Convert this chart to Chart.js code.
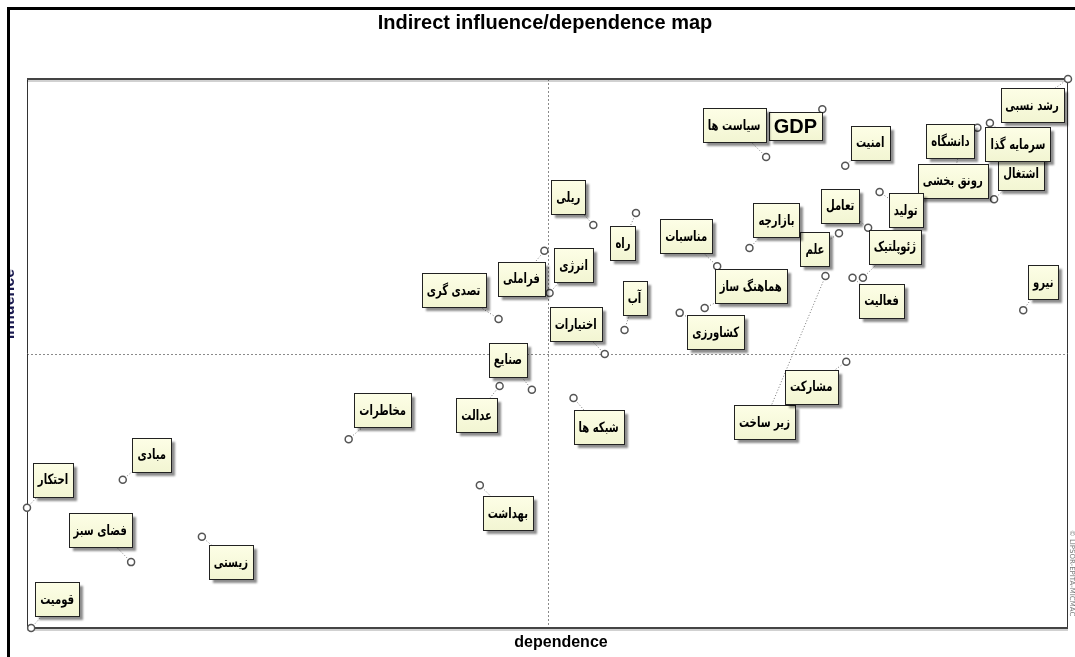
<!DOCTYPE html>
<html>
<head>
<meta charset="utf-8">
<title>Indirect influence/dependence map</title>
<script src="https://cdn.jsdelivr.net/npm/chart.js@4.4.0/dist/chart.umd.js"></script>
<style>
  html, body { margin: 0; padding: 0; background: #fff; }
  #wrap { width: 1075px; height: 657px; position: relative; }
</style>
</head>
<body>
<div id="wrap"><canvas id="map" width="1075" height="657"></canvas></div>
<script>
// Variables (drawing order matters: later boxes sit on top)
const variables = [
  'رشد نسبی', 'دانشگاه', 'اشتغال', 'سرمایه گذا', 'رونق بخشی', 'تولید', 'GDP', 'سیاست ها',
  'امنیت', 'تعامل', 'علم', 'ژئوپلتیک', 'فعالیت', 'زیر ساخت', 'نیرو', 'بازارچه',
  'مناسبات', 'هماهنگ ساز', 'کشاورزی', 'راه', 'ریلی', 'آب', 'اختیارات', 'فراملی',
  'انرژی', 'تصدی گری', 'صنایع', 'عدالت', 'شبکه ها', 'مشارکت', 'بهداشت', 'مخاطرات',
  'مبادی', 'احتکار', 'فضای سبز', 'زیستی', 'قومیت'
];

// x = dependence, y = influence (0..100 over the map)
const dependence = [
  100, 91.3, 92.9, 92.5, 89.6, 81.9, 76.4, 71.0,
  78.6, 80.8, 78.0, 80.3, 79.3, 76.7, 95.7, 69.4,
  66.3, 65.1, 62.7, 58.5, 54.4, 57.4, 55.5, 49.7,
  50.2, 45.3, 48.5, 45.4, 52.5, 78.7, 43.5, 30.9,
  9.2, 0, 10.0, 16.8, 0.4
];
const influence = [
  100, 91.1, 78.1, 92.0, 87.1, 79.4, 94.5, 85.8,
  84.2, 72.9, 71.9, 63.8, 63.8, 64.1, 57.9, 69.2,
  65.9, 58.3, 57.4, 75.6, 73.4, 54.3, 49.9, 68.7,
  61.0, 56.3, 43.4, 44.1, 41.9, 48.5, 26.0, 34.4,
  27.0, 21.9, 12.0, 16.6, 0
];

// label box offsets from the point, in px
const labelDx = [
  -36, -27, 27, 28, -7, 26, -27, -32,
  25, -28, -24, 32, 29, -61, 20, 27,
  -31, 46, 36, -13, -25, 10, -29, -23,
  24, -45, -24, -23, 25, -35, 28, 34,
  29, 26, -31, 29, 26
];
const labelDy = [
  26, 13, -26, 21, 31, 18, 17, -32,
  -23, -22, 16, -31, 23, 146, -28, -28,
  -30, -22, 19, 30, -28, -32, -30, 28,
  -28, -29, -30, 29, 29, 25, 28, -29,
  -25, -28, -32, 25, -29
];

const arabicFont = 'bold 14px "DejaVu Sans", sans-serif';
const latinFont = 'bold 20px "Liberation Sans", Arial, sans-serif';
const arabicSqueeze = 0.72; // DejaVu's Arabic is much wider than the original naskh face

// Frame, title, axis names, quadrant lines
const frameDecor = {
  id: 'frameDecor',
  beforeDatasetsDraw(chart) {
    const { ctx, chartArea: a, scales: { x, y } } = chart;
    ctx.save();

    // quadrant dotted lines
    ctx.strokeStyle = '#8a8a8a';
    ctx.lineWidth = 1;
    ctx.setLineDash([2, 2]);
    const mx = Math.round(x.getPixelForValue(50)) + 0.5;
    const my = Math.round(y.getPixelForValue(50)) + 0.5;
    ctx.beginPath();
    ctx.moveTo(mx, a.top); ctx.lineTo(mx, a.bottom);
    ctx.moveTo(a.left, my); ctx.lineTo(a.right, my);
    ctx.stroke();
    ctx.setLineDash([]);

    // plot frame: heavy top/bottom, thin sides
    ctx.strokeStyle = '#333';
    ctx.lineWidth = 1;
    ctx.beginPath();
    ctx.moveTo(a.left + 0.5, a.top); ctx.lineTo(a.left + 0.5, a.bottom);
    ctx.moveTo(a.right - 0.5, a.top); ctx.lineTo(a.right - 0.5, a.bottom);
    ctx.stroke();
    ctx.lineWidth = 2;
    ctx.strokeStyle = '#444';
    ctx.beginPath();
    ctx.moveTo(a.left, a.top); ctx.lineTo(a.right, a.top);
    ctx.moveTo(a.left, a.bottom); ctx.lineTo(a.right, a.bottom);
    ctx.stroke();
    ctx.strokeStyle = 'rgba(0,0,0,0.18)';
    ctx.beginPath();
    ctx.moveTo(a.left, a.top + 2); ctx.lineTo(a.right, a.top + 2);
    ctx.moveTo(a.left, a.bottom + 2); ctx.lineTo(a.right, a.bottom + 2);
    ctx.stroke();

    // title and axis names
    ctx.fillStyle = '#000';
    ctx.textAlign = 'center';
    ctx.textBaseline = 'middle';
    ctx.font = 'bold 20px "Liberation Sans", Arial, sans-serif';
    ctx.fillText('Indirect influence/dependence map', 545, 23);
    ctx.font = 'bold 16px "Liberation Sans", Arial, sans-serif';
    ctx.fillText('dependence', 561, 643);

    // y name is mostly hidden behind the window border, as in the original
    ctx.save();
    ctx.translate(14, 304);
    ctx.rotate(-Math.PI / 2);
    ctx.fillStyle = '#1a1a50';
    ctx.textBaseline = 'alphabetic';
    ctx.fillText('influence', 0, 0);
    ctx.restore();

    // outer window border
    ctx.fillStyle = '#fff';
    ctx.fillRect(0, 0, 7, 657);
    ctx.fillStyle = '#000';
    ctx.fillRect(7, 7, 3, 650);
    ctx.fillRect(7, 7, 1068, 3);

    // tiny credit text on the right edge
    ctx.save();
    ctx.translate(1072, 573);
    ctx.rotate(Math.PI / 2);
    ctx.font = '7px "DejaVu Sans", sans-serif';
    ctx.fillStyle = '#777';
    ctx.fillText('© LIPSOR-EPITA-MICMAC', 0, 0);
    ctx.restore();

    // leader lines from points to label boxes
    const meta = chart.getDatasetMeta(0);
    ctx.strokeStyle = '#777';
    ctx.lineWidth = 1;
    ctx.setLineDash([1, 2]);
    meta.data.forEach((pt, i) => {
      ctx.beginPath();
      ctx.moveTo(pt.x, pt.y);
      ctx.lineTo(pt.x + labelDx[i], pt.y + labelDy[i]);
      ctx.stroke();
    });
    ctx.restore();
  },

  // yellow label boxes on top of the points
  afterDatasetsDraw(chart) {
    const { ctx } = chart;
    const meta = chart.getDatasetMeta(0);
    ctx.save();
    meta.data.forEach((pt, i) => {
      const text = variables[i];
      const latin = /^[A-Za-z]+$/.test(text);
      const sx = latin ? 1 : arabicSqueeze;
      ctx.font = latin ? latinFont : arabicFont;
      const tw = ctx.measureText(text).width * sx;
      const w = Math.max(Math.round(tw + 10), 21);
      const h = latin ? 28 : 34;
      const cx = pt.x + labelDx[i];
      const cy = pt.y + labelDy[i];
      const bx = Math.round(cx - w / 2) + 0.5;
      const by = Math.round(cy - h / 2) + 0.5;

      ctx.shadowColor = 'rgba(0,0,0,0.45)';
      ctx.shadowOffsetX = 3;
      ctx.shadowOffsetY = 3;
      ctx.shadowBlur = 2;
      const g = ctx.createLinearGradient(0, by, 0, by + h);
      g.addColorStop(0, '#fdfee6');
      g.addColorStop(1, '#f2f5d2');
      ctx.fillStyle = g;
      ctx.fillRect(bx, by, w, h);
      ctx.shadowColor = 'transparent';
      ctx.strokeStyle = '#222';
      ctx.lineWidth = 1;
      ctx.strokeRect(bx, by, w, h);

      ctx.save();
      ctx.translate(cx, cy + 1);
      ctx.scale(sx, 1);
      ctx.fillStyle = '#000';
      ctx.textAlign = 'center';
      ctx.textBaseline = 'middle';
      ctx.direction = latin ? 'ltr' : 'rtl';
      ctx.fillText(text, 0, 0);
      ctx.restore();
    });
    ctx.restore();
  }
};

const points = dependence.map((d, i) => ({ x: d, y: influence[i] }));

new Chart(document.getElementById('map'), {
  type: 'scatter',
  data: {
    datasets: [{
      data: points,
      pointStyle: 'circle',
      pointRadius: 3.5,
      pointBackgroundColor: '#fff',
      pointBorderColor: '#555',
      pointBorderWidth: 1.5,
      clip: false
    }]
  },
  options: {
    responsive: false,
    animation: false,
    events: [],
    layout: { padding: { left: 27, right: 7, top: 79, bottom: 29 } },
    plugins: {
      legend: { display: false },
      tooltip: { enabled: false }
    },
    scales: {
      x: { type: 'linear', min: 0, max: 100, display: false },
      y: { type: 'linear', min: 0, max: 100, display: false }
    }
  },
  plugins: [frameDecor]
});
</script>
</body>
</html>
